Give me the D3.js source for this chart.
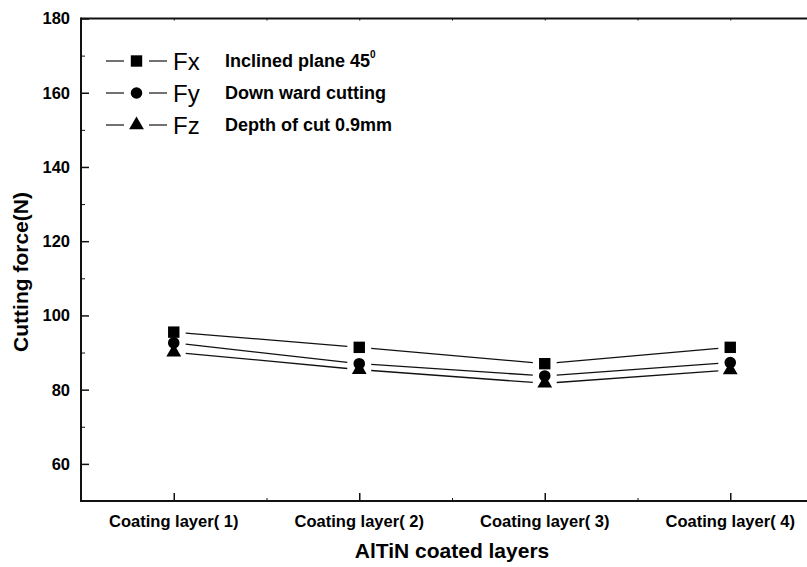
<!DOCTYPE html>
<html>
<head>
<meta charset="utf-8">
<script src="https://cdn.jsdelivr.net/npm/d3@7"></script>
<style>
  html, body { margin: 0; padding: 0; background: #fff; }
  svg { display: block; font-family: "Liberation Sans", Arial, sans-serif; }
</style>
</head>
<body>
<svg id="chart" width="807" height="567"></svg>
<script>
// Cutting force per AlTiN coating layer
const categories = ["Coating layer( 1)", "Coating layer( 2)", "Coating layer( 3)", "Coating layer( 4)"];
const fxValues = [95.5, 91.4, 87.0, 91.4];
const fyValues = [92.6, 87.0, 83.7, 87.3];
const fzValues = [90.1, 85.4, 81.7, 85.3];
const yTicks = [60, 80, 100, 120, 140, 160, 180];
const yMinorTicks = [70, 90, 110, 130, 150, 170];
const seriesNames = ["Fx", "Fy", "Fz"];
const legendNotes = ["Inclined plane 45", "Down ward cutting", "Depth of cut 0.9mm"];

const series = [
  { name: seriesNames[0], values: fxValues, symbol: d3.symbolSquare, size: 130, note: legendNotes[0] },
  { name: seriesNames[1], values: fyValues, symbol: d3.symbolCircle, size: 105, note: legendNotes[1] },
  { name: seriesNames[2], values: fzValues, symbol: d3.symbolTriangle, size: 95, note: legendNotes[2] }
];

const svg = d3.select("#chart");
const plotLeft = 81, plotRight = 823, plotTop = 18.5, plotBottom = 501;

const x = d3.scaleLinear().domain([0.5, 4.5]).range([plotLeft, plotRight]);
const y = d3.scaleLinear().domain([50, 180]).range([plotBottom, plotTop]);
const ink = "#111";

// Frame line along the top
svg.append("line").attr("x1", plotLeft).attr("x2", plotRight).attr("y1", plotTop).attr("y2", plotTop)
  .attr("stroke", ink).attr("stroke-width", 2);

// Left axis with inward ticks
const yAxis = svg.append("g").attr("transform", `translate(${plotLeft},0)`)
  .call(d3.axisRight(y).tickValues(yTicks).tickSize(8).tickFormat(""));
yAxis.select(".domain").remove();
yAxis.selectAll("line").attr("stroke", ink).attr("stroke-width", 1.5);
svg.append("g").attr("transform", `translate(${plotLeft},0)`)
  .call(d3.axisRight(y).tickValues(yMinorTicks).tickSize(4).tickFormat(""))
  .call(g => g.select(".domain").remove())
  .selectAll("line").attr("stroke", ink).attr("stroke-width", 1);
svg.append("line").attr("x1", plotLeft).attr("x2", plotLeft).attr("y1", plotTop - 1).attr("y2", plotBottom + 1)
  .attr("stroke", ink).attr("stroke-width", 2);

svg.append("g").selectAll("text").data(yTicks).join("text")
  .attr("x", 70).attr("y", d => y(d)).attr("dy", "0.36em")
  .attr("text-anchor", "end").attr("font-size", 16.5).attr("font-weight", "bold")
  .text(d => d);

// Bottom axis with inward ticks at categories
const catIdx = categories.map((c, i) => i + 1);
const xAxis = svg.append("g").attr("transform", `translate(0,${plotBottom})`)
  .call(d3.axisTop(x).tickValues(catIdx).tickSize(8).tickFormat(""));
xAxis.select(".domain").remove();
xAxis.selectAll("line").attr("stroke", ink).attr("stroke-width", 1.5);
svg.append("g").attr("transform", `translate(0,${plotBottom})`)
  .call(d3.axisTop(x).tickValues([1.5, 2.5, 3.5, 4.5]).tickSize(3).tickFormat(""))
  .call(g => g.select(".domain").remove())
  .selectAll("line").attr("stroke", ink).attr("stroke-width", 1);
// Small marks along the top frame
svg.append("g").attr("transform", `translate(0,${plotTop})`)
  .call(d3.axisBottom(x).tickValues([1, 1.5, 2, 2.5, 3, 3.5, 4]).tickSize(2).tickFormat(""))
  .call(g => g.select(".domain").remove())
  .selectAll("line").attr("stroke", ink).attr("stroke-width", 1);
svg.append("line").attr("x1", plotLeft - 1).attr("x2", plotRight).attr("y1", plotBottom).attr("y2", plotBottom)
  .attr("stroke", ink).attr("stroke-width", 2);

svg.append("g").selectAll("text").data(categories).join("text")
  .attr("x", (d, i) => x(i + 1)).attr("y", 527)
  .attr("text-anchor", "middle").attr("font-size", 16.5).attr("font-weight", "bold")
  .text(d => d);

// Axis titles
svg.append("text").attr("x", (plotLeft + plotRight) / 2).attr("y", 558)
  .attr("text-anchor", "middle").attr("font-size", 21).attr("font-weight", "bold")
  .text("AlTiN coated layers");
svg.append("text").attr("transform", `translate(28,272) rotate(-90)`)
  .attr("text-anchor", "middle").attr("font-size", 21).attr("font-weight", "bold")
  .text("Cutting force(N)");

// Connecting lines, broken near each marker
const gap = 12;
series.forEach(s => {
  const pts = s.values.map((v, i) => [x(i + 1), y(v)]);
  for (let i = 0; i < pts.length - 1; i++) {
    const [x0, y0] = pts[i], [x1, y1] = pts[i + 1];
    const len = Math.hypot(x1 - x0, y1 - y0);
    const ux = (x1 - x0) / len, uy = (y1 - y0) / len;
    svg.append("line")
      .attr("x1", x0 + ux * gap).attr("y1", y0 + uy * gap)
      .attr("x2", x1 - ux * gap).attr("y2", y1 - uy * gap)
      .attr("stroke", ink).attr("stroke-width", 1.3);
  }
});

// Markers
series.forEach(s => {
  svg.append("g").selectAll("path").data(s.values).join("path")
    .attr("transform", (v, i) => `translate(${x(i + 1)},${y(v)})`)
    .attr("d", d3.symbol().type(s.symbol).size(s.size))
    .attr("fill", "#000");
});

// Legend
const legendY = [61, 93, 125];
series.forEach((s, i) => {
  const g = svg.append("g").attr("transform", `translate(0,${legendY[i]})`);
  g.append("line").attr("x1", 106).attr("x2", 124).attr("stroke", ink).attr("stroke-width", 1.2);
  g.append("line").attr("x1", 149).attr("x2", 167).attr("stroke", ink).attr("stroke-width", 1.2);
  g.append("path").attr("transform", "translate(136.5,0)")
    .attr("d", d3.symbol().type(s.symbol).size(s.size)).attr("fill", "#000");
  g.append("text").attr("x", 173).attr("dy", "0.36em").attr("font-size", 24)
    .text(s.name);
  const t = g.append("text").attr("x", 225).attr("dy", "0.36em")
    .attr("font-size", 18).attr("font-weight", "bold").text(s.note);
  if (i === 0) {
    t.append("tspan").attr("font-size", 10).attr("dy", "-0.9em").text("0");
  }
});
</script>
</body>
</html>
